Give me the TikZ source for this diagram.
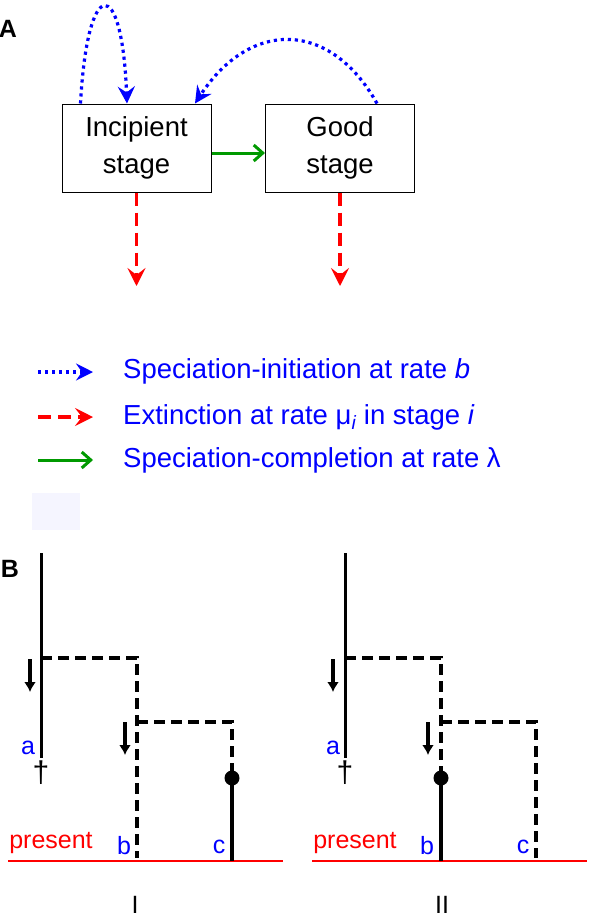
\documentclass[tikz,border=0pt]{standalone}
\usepackage{fontspec}
\setmainfont{Liberation Sans}
\usepackage{tikz}
\usetikzlibrary{arrows.meta,calc}

\begin{document}
\begin{tikzpicture}[x=1pt,y=-1pt,
    stagebox/.style={draw,line width=1pt,minimum width=149pt,minimum height=88pt,align=center,font=\fontsize{27.5}{37}\selectfont},
    initarrow/.style={blue,line width=3.2pt,dash pattern=on 3.2pt off 3.8pt,-{Stealth[length=17pt,width=17pt,inset=6pt]}},
    extarrow/.style={red,line width=3.2pt,dash pattern=on 13pt off 7pt,-{Stealth[length=18pt,width=18pt,inset=7pt]}},
    complarrow/.style={green!60!black,line width=3pt,-{Straight Barb[length=9pt,width=16pt,line width=3pt]}},
    legendtext/.style={blue,anchor=west,inner sep=0pt,font=\fontsize{27.5}{32}\selectfont},
    panellabel/.style={font=\fontsize{25}{25}\selectfont\bfseries},
    branch/.style={line width=3pt},
    dashbranch/.style={line width=3.5pt,dash pattern=on 11pt off 6pt},
    livebranch/.style={line width=4.5pt},
    timearrow/.style={line width=3.5pt,-{Latex[length=10pt,width=12pt]}},
    tiplabel/.style={blue,inner sep=0pt,font=\fontsize{25}{25}\selectfont},
    treetext/.style={inner sep=0pt,font=\fontsize{25}{25}\selectfont},
    presentline/.style={red,line width=1.2pt},
    dot/.style={circle,fill=black,minimum size=15pt,inner sep=0pt},
]
    \useasboundingbox (0,0) rectangle (589,922);

    % panel A
    \node[panellabel] at (8,29) (labA) {A};
    \node[stagebox] at (136.5,148) (inc) {Incipient\\stage};
    \node[stagebox] at (340,148) (good) {Good\\stage};
    \coordinate (incOut) at (136.5,286);
    \coordinate (goodOut) at (340,286);
    \draw[initarrow] ([xshift=19pt]inc.north west) .. controls +(7,-129) and +(-5,-129) .. ([xshift=-9.5pt]inc.north);
    \draw[initarrow] ([xshift=37pt]good.north) .. controls +(-47,-84) and +(55,-84) .. ([xshift=58.5pt]inc.north);
    \draw[complarrow] ([yshift=-5pt]inc.east) -- ([yshift=-5pt]good.west);
    \draw[extarrow] (inc.south) -- (incOut);
    \draw[extarrow] (good.south) -- (goodOut);

    % legend
    \coordinate (legInitL) at (38,372);  \coordinate (legInitR) at (93,372);
    \coordinate (legExtL) at (38,417);   \coordinate (legExtR) at (93,417);
    \coordinate (legComplL) at (38,460); \coordinate (legComplR) at (93,460);
    \draw[initarrow] (legInitL) -- (legInitR);
    \draw[extarrow] (legExtL) -- (legExtR);
    \draw[complarrow] (legComplL) -- (legComplR);
    \node[legendtext] at (123,371) (legInit) {Speciation-initiation at rate \textit{b}};
    \node[legendtext] at (123,417) (legExt) {Extinction at rate μ\textsubscript{\itshape i} in stage \textit{i}};
    \node[legendtext] at (123,460) (legCompl) {Speciation-completion at rate λ};
    \fill[blue!4] (32,493) rectangle (80,530);

    % panel B
    \node[panellabel] at (10,569) (labB) {B};

    % tree I
    \coordinate (aTop1) at (41,553);
    \coordinate (aEnd1) at (41,758);
    \coordinate (split1) at (41,658);
    \coordinate (bSplit1) at (137,658);
    \coordinate (bNode1) at (137,722);
    \coordinate (cSplit1) at (232,722);
    \coordinate (bEnd1) at (137,858);
    \coordinate (cEnd1) at (232,861);
    \coordinate (presL1) at (8,861);
    \coordinate (presR1) at (283,861);
    \node[dot] at (232,778) (cDot1) {};
    \draw[presentline] (presL1) -- (presR1);
    \draw[branch] (aTop1) -- (aEnd1);
    \draw[dashbranch] (split1) -- (bSplit1) -- (bEnd1);
    \draw[dashbranch] (bNode1) -- (cSplit1) -- (cDot1.center);
    \draw[livebranch] (cDot1.center) -- (cEnd1);
    \coordinate (arrA1) at (30,659);  \coordinate (arrB1) at (30,692);
    \coordinate (arrC1) at (125,722); \coordinate (arrD1) at (125,755);
    \draw[timearrow] (arrA1) -- (arrB1);
    \draw[timearrow] (arrC1) -- (arrD1);
    \node[treetext,font=\fontsize{30}{30}\selectfont] at (41,773) (dag1) {†};
    \node[tiplabel] at (28,748) (a1) {a};
    \node[tiplabel] at (124,846) (b1) {b};
    \node[tiplabel] at (219,847) (c1) {c};
    \node[treetext,red] at (51,843) (pres1) {present};
    \node[treetext] at (135,905) (lab1) {I};

    % tree II
    \coordinate (aTop2) at (345,553);
    \coordinate (aEnd2) at (345,758);
    \coordinate (split2) at (345,658);
    \coordinate (bSplit2) at (441,658);
    \coordinate (bNode2) at (441,722);
    \coordinate (cSplit2) at (536,722);
    \coordinate (bEnd2) at (441,861);
    \coordinate (cEnd2) at (536,858);
    \coordinate (presL2) at (312,861);
    \coordinate (presR2) at (587,861);
    \node[dot] at (441,778) (bDot2) {};
    \draw[presentline] (presL2) -- (presR2);
    \draw[branch] (aTop2) -- (aEnd2);
    \draw[dashbranch] (split2) -- (bSplit2) -- (bDot2.center);
    \draw[dashbranch] (bNode2) -- (cSplit2) -- (cEnd2);
    \draw[livebranch] (bDot2.center) -- (bEnd2);
    \coordinate (arrA2) at (333,659); \coordinate (arrB2) at (333,692);
    \coordinate (arrC2) at (428,722); \coordinate (arrD2) at (428,755);
    \draw[timearrow] (arrA2) -- (arrB2);
    \draw[timearrow] (arrC2) -- (arrD2);
    \node[treetext,font=\fontsize{30}{30}\selectfont] at (345,773) (dag2) {†};
    \node[tiplabel] at (333,748) (a2) {a};
    \node[tiplabel] at (427,846) (b2) {b};
    \node[tiplabel] at (523,847) (c2) {c};
    \node[treetext,red] at (355,843) (pres2) {present};
    \node[treetext] at (442,905) (lab2) {II};
\end{tikzpicture}
\end{document}
